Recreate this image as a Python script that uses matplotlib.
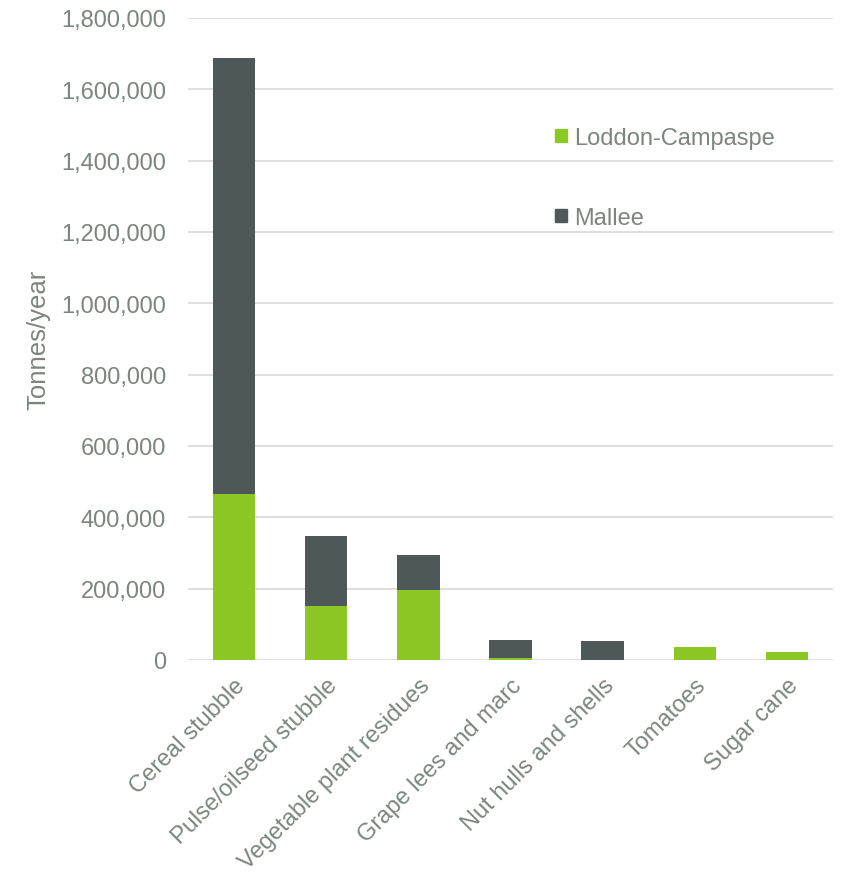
import matplotlib
matplotlib.use("Agg")
import matplotlib.pyplot as plt
from matplotlib.ticker import FuncFormatter
from matplotlib.patches import Patch

categories = ["Cereal stubble", "Pulse/oilseed stubble", "Vegetable plant residues",
              "Grape lees and marc", "Nut hulls and shells", "Tomatoes", "Sugar cane"]
loddon = [465000, 151000, 196000, 5000, 500, 36000, 22000]
mallee = [1223000, 197000, 98000, 51000, 53000, 0, 0]

green = "#8CC825"
gray = "#4F5858"
txt = "#7C857E"
fs = 17

plt.rcParams['font.family'] = ['Liberation Sans', 'DejaVu Sans']
fig = plt.figure(figsize=(8.41, 8.78), dpi=100)
ax = fig.add_axes([188/841, 1-661/878, (833-188)/841, (661-19)/878])

x = range(len(categories))
ax.bar(x, loddon, width=0.46, color=green, label="Loddon-Campaspe", zorder=3)
ax.bar(x, mallee, width=0.46, bottom=loddon, color=gray, label="Mallee", zorder=3)

ax.set_ylim(0, 1800000)
ax.set_xlim(-0.5, len(categories) - 0.5)
ax.set_yticks(range(0, 1800001, 200000))
ax.yaxis.set_major_formatter(FuncFormatter(lambda v, p: f"{int(v):,}"))
ax.grid(axis='y', color='#D9D9D9', linewidth=1.2, zorder=0)
for s in ax.spines.values():
    s.set_visible(False)
ax.tick_params(axis='both', length=0, colors=txt, labelsize=fs)
ax.tick_params(axis='y', pad=16)
ax.set_xticks(list(x))
ax.set_xticklabels(categories, rotation=45, ha='right', rotation_mode='anchor')
ax.tick_params(axis='x', pad=10)
ax.set_ylabel("Tonnes/year", color=txt, fontsize=18.5)
ax.yaxis.set_label_coords((50-188)/645, 0.5)

handles = [Patch(color=green), Patch(color=gray)]
leg = ax.legend(handles, ["Loddon-Campaspe", "Mallee"], loc='upper left',
                bbox_to_anchor=((555-188)/645, 1-(128-19)/642), frameon=False, fontsize=fs,
                handlelength=0.5, handleheight=0.5, handletextpad=0.33, labelspacing=2.45,
                borderaxespad=0, borderpad=0)
for t in leg.get_texts():
    t.set_color(txt)

fig.savefig("out.png", dpi=100)
